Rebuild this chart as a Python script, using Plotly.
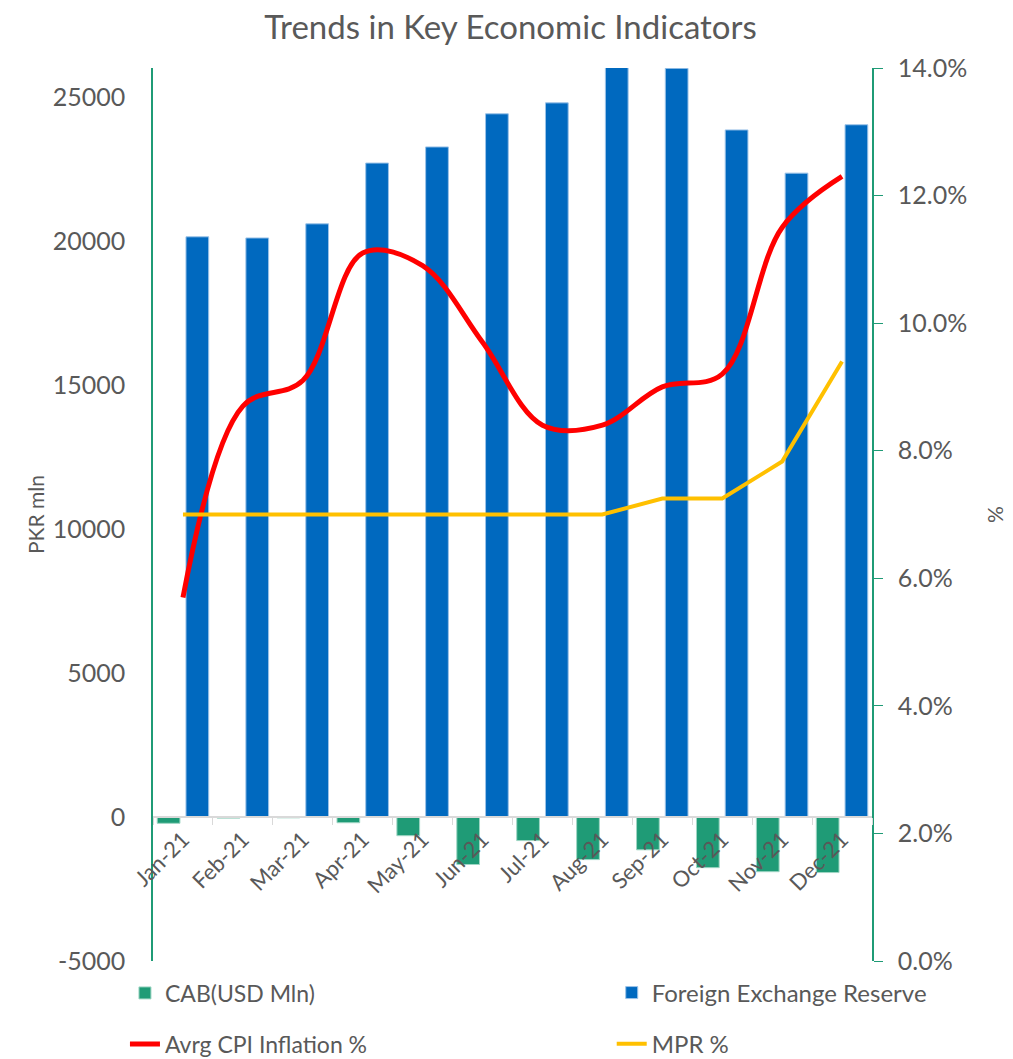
import plotly.graph_objects as go

months = ["Jan-21", "Feb-21", "Mar-21", "Apr-21", "May-21", "Jun-21",
          "Jul-21", "Aug-21", "Sep-21", "Oct-21", "Nov-21", "Dec-21"]
cab = [-220, -40, -30, -200, -650, -1650, -820, -1480, -1140, -1760, -1900, -1930]
fx_reserve = [20140, 20100, 20590, 22700, 23260, 24410, 24790, 26050, 25990, 23850, 22350, 24030]
cpi = [5.7, 8.7, 9.1, 11.1, 10.9, 9.7, 8.4, 8.4, 9.0, 9.2, 11.5, 12.3]
mpr = [7.0, 7.0, 7.0, 7.0, 7.0, 7.0, 7.0, 7.0, 7.25, 7.25, 7.83, 9.4]

left_ticks = [-5000, 0, 5000, 10000, 15000, 20000, 25000]
right_ticks = [0, 2, 4, 6, 8, 10, 12, 14]

Y_MIN, Y_MAX = -5000, 26000
FONT = "Lato"
GRAY = "#595959"
GREEN = "#1F9B76"
BLUE = "#0069BF"

# page has an 8px body margin, so the figure is sized to fit the 1013x1059 window
W, H = 1005, 1051

fig = go.Figure()
fig.add_trace(go.Bar(x=months, y=cab, name="CAB(USD Mln)", marker_color=GREEN,
                     marker_line=dict(color="#9fd6c4", width=1), legend="legend2"))
fig.add_trace(go.Bar(x=months, y=fx_reserve, name="Foreign Exchange Reserve", marker_color=BLUE,
                     marker_line=dict(color="#9cc3e8", width=1), legend="legend3"))
fig.add_trace(go.Scatter(x=months, y=cpi, name="Avrg CPI Inflation %", yaxis="y2", mode="lines",
                         line=dict(color="#FF0000", width=5, shape="spline", smoothing=1.0),
                         legend="legend4"))
fig.add_trace(go.Scatter(x=months, y=mpr, name="MPR %", yaxis="y2", mode="lines",
                         line=dict(color="#FFC000", width=4), legend="legend5"))

def leg(x, y, size):
    return dict(orientation="h", x=x, xanchor="left", y=y, yanchor="middle",
                font=dict(size=size, color=GRAY, family=FONT), bgcolor="rgba(0,0,0,0)")

fig.update_layout(
    width=W, height=H,
    margin=dict(l=145, r=141, t=60, b=98, autoexpand=False),
    paper_bgcolor="white", plot_bgcolor="white",
    showlegend=True,
    font=dict(family=FONT, color=GRAY, size=22),
    title=dict(text="Trends in Key Economic Indicators", x=0.5, xanchor="center",
               y=1 - 19 / H, yanchor="middle", font=dict(size=33, color=GRAY, family=FONT)),
    barmode="group", bargap=0.04, bargroupgap=0.21,
    xaxis=dict(type="category", anchor="free",
               position=(0 - Y_MIN) / (Y_MAX - Y_MIN),
               showline=True, linecolor="#d9d9d9", linewidth=2,
               ticks="outside", tickson="boundaries", ticklen=7, tickcolor="#d9d9d9",
               tickangle=-45, tickfont=dict(size=22, color=GRAY), showgrid=False),
    yaxis=dict(range=[Y_MIN, Y_MAX], tickvals=left_ticks,
               ticktext=[str(v) for v in left_ticks], showgrid=False, zeroline=False,
               showline=True, linecolor=GREEN, linewidth=1.5, ticks="",
               ticklabelstandoff=21,
               tickfont=dict(size=25, color=GRAY),
               title=dict(text="PKR mln", font=dict(size=21, color=GRAY), standoff=2)),
    yaxis2=dict(range=[0, 14], tickvals=right_ticks,
                ticktext=[f"{v:.1f}%" for v in right_ticks], overlaying="y", side="right",
                showgrid=False, zeroline=False,
                showline=True, linecolor=GREEN, linewidth=1.5,
                ticks="outside", ticklen=9, tickcolor=GREEN, ticklabelstandoff=10,
                tickfont=dict(size=25, color=GRAY),
                title=dict(text="%", font=dict(size=21, color=GRAY), standoff=22)),
    legend2=leg(-0.039, -0.0358, 23),
    legend3=leg(0.638, -0.0358, 24),
    legend4=leg(-0.039, -0.0930, 23),
    legend5=leg(0.638, -0.0930, 24),
)

fig.write_html("out.html")
